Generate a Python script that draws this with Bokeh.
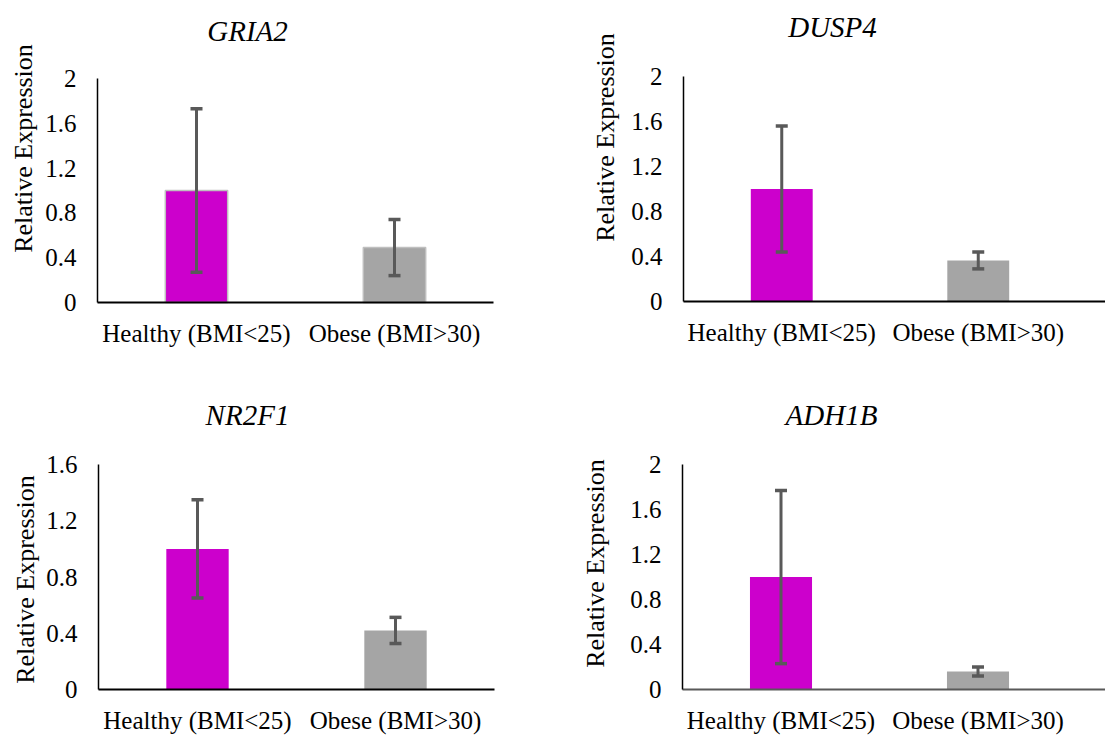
import math
from bokeh.plotting import figure
from bokeh.models import (Range1d, FixedTicker, CustomJSTickFormatter, Whisker,
                          TeeHead, ColumnDataSource, Label, LinearAxis)
from bokeh.layouts import column, row
from bokeh.embed import file_html
from bokeh.resources import INLINE

# ---------------- data ----------------
categories = ["Healthy (BMI<25)", "Obese (BMI>30)"]
genes = ["GRIA2", "DUSP4", "NR2F1", "ADH1B"]

gria2_mean = [1.0, 0.49]
gria2_err = [0.73, 0.25]
dusp4_mean = [1.0, 0.365]
dusp4_err = [0.56, 0.075]
nr2f1_mean = [1.0, 0.42]
nr2f1_err = [0.35, 0.093]
adh1b_mean = [1.0, 0.16]
adh1b_err = [0.77, 0.04]

ticks_2 = [0, 0.4, 0.8, 1.2, 1.6, 2.0]
ticks_16 = [0, 0.4, 0.8, 1.2, 1.6]

y_label = "Relative Expression"
bar_colors = ["#CC00CC", "#A5A5A5"]

FONT = "'Liberation Serif', 'Times New Roman', 'DejaVu Serif', serif"

# ---------------- layout (pixels inside each panel) ----------------
# left = x of y-axis, axis_end = right end of x-axis, top = row of y max,
# bottom = row of y = 0, cat_px = width of one category
panels = [
    dict(gene=genes[0], mean=gria2_mean, err=gria2_err, ticks=ticks_2,
         W=552, H=367, left=97, axis_end=493, top=78, bottom=302, cat_px=198,
         title_xy=(247, 30), ylab_xy=(23, 148), xcol="black", outline="#BFBFBF"),
    dict(gene=genes[1], mean=dusp4_mean, err=dusp4_err, ticks=ticks_2,
         W=553, H=367, left=131, axis_end=553, top=76, bottom=301, cat_px=196.5,
         title_xy=(280, 26), ylab_xy=(53, 137), xcol="black", outline=None),
    dict(gene=genes[2], mean=nr2f1_mean, err=nr2f1_err, ticks=ticks_16,
         W=552, H=368, left=98, axis_end=494, top=97, bottom=322, cat_px=198,
         title_xy=(247, 47), ylab_xy=(25, 212), xcol="black", outline=None),
    dict(gene=genes[3], mean=adh1b_mean, err=adh1b_err, ticks=ticks_2,
         W=553, H=368, left=130, axis_end=553, top=97, bottom=322, cat_px=197,
         title_xy=(279, 47), ylab_xy=(43, 196), xcol="#595959", outline=None),
]


def make_panel(c):
    ymax = c["ticks"][-1]
    W, H = c["W"], c["H"]
    cat = c["cat_px"]
    ypx = (c["bottom"] - c["top"]) / ymax          # pixels per y unit

    def dx(px):   # panel pixel column -> data x
        return (px - c["left"]) / cat

    def dy(py):   # panel pixel row -> data y
        return (c["bottom"] - py) / ypx

    p = figure(frame_width=W, frame_height=H,
               min_border=0, min_border_left=0, min_border_right=0,
               min_border_top=0, min_border_bottom=0,
               x_range=Range1d(dx(0), dx(W)), y_range=Range1d(dy(H), dy(0)),
               x_axis_location=None, y_axis_location=None,
               output_backend="svg", toolbar_location=None, tools="")
    p.outline_line_color = None
    p.background_fill_color = "white"
    p.border_fill_color = "white"
    p.xgrid.visible = False
    p.ygrid.visible = False

    xs = [i + 0.5 for i in range(len(categories))]
    src = ColumnDataSource(dict(
        x=xs, top=c["mean"], color=bar_colors,
        upper=[m + e for m, e in zip(c["mean"], c["err"])],
        lower=[m - e for m, e in zip(c["mean"], c["err"])],
    ))
    p.vbar(x="x", top="top", bottom=0, width=0.315, fill_color="color",
           source=src, line_color=c["outline"], line_width=1.5)

    w = Whisker(base="x", upper="upper", lower="lower", source=src,
                line_color="#595959", line_width=3, level="annotation",
                upper_head=TeeHead(size=12, line_color="#595959", line_width=3.5),
                lower_head=TeeHead(size=12, line_color="#595959", line_width=3.5))
    p.add_layout(w)

    # x axis (fixed at y = 0)
    xa = LinearAxis(fixed_location=0, bounds=(0, dx(c["axis_end"])))
    xa.ticker = FixedTicker(ticks=xs)
    xa.formatter = CustomJSTickFormatter(args=dict(labels=categories),
                                         code="return labels[Math.floor(tick)];")
    xa.major_tick_line_color = None
    xa.minor_tick_line_color = None
    xa.major_tick_out = 0
    xa.major_tick_in = 0
    xa.major_label_standoff = 17
    xa.axis_line_color = c["xcol"]
    xa.axis_line_width = 2
    xa.major_label_text_font = FONT
    xa.major_label_text_font_size = "25px"
    xa.major_label_text_color = "black"
    p.add_layout(xa, "below")

    # y axis (fixed at x = 0)
    ya = LinearAxis(fixed_location=0, bounds=(0, ymax))
    ya.ticker = FixedTicker(ticks=c["ticks"])
    ya.formatter = CustomJSTickFormatter(code="return String(Math.round(tick*10)/10);")
    ya.major_tick_line_color = None
    ya.minor_tick_line_color = None
    ya.major_tick_out = 0
    ya.major_tick_in = 0
    ya.major_label_standoff = 21
    ya.axis_line_color = "black"
    ya.axis_line_width = 1.5
    ya.major_label_text_font = FONT
    ya.major_label_text_font_size = "25px"
    ya.major_label_text_color = "black"
    p.add_layout(ya, "left")

    # gene title (italic) and y-axis title
    tx, ty = c["title_xy"]
    p.add_layout(Label(x=dx(tx), y=dy(ty), text=c["gene"],
                       text_align="center", text_baseline="middle",
                       text_font=FONT, text_font_style="italic",
                       text_font_size="29px", text_color="black"))
    lx, ly = c["ylab_xy"]
    p.add_layout(Label(x=dx(lx), y=dy(ly), text=y_label, angle=math.pi / 2,
                       text_align="center", text_baseline="middle",
                       text_font=FONT, text_font_size="26px",
                       text_color="black"))
    return p


figs = [make_panel(c) for c in panels]
layout = column(row(figs[0], figs[1]), row(figs[2], figs[3]))

open("out.html", "w").write(file_html(layout, INLINE))
